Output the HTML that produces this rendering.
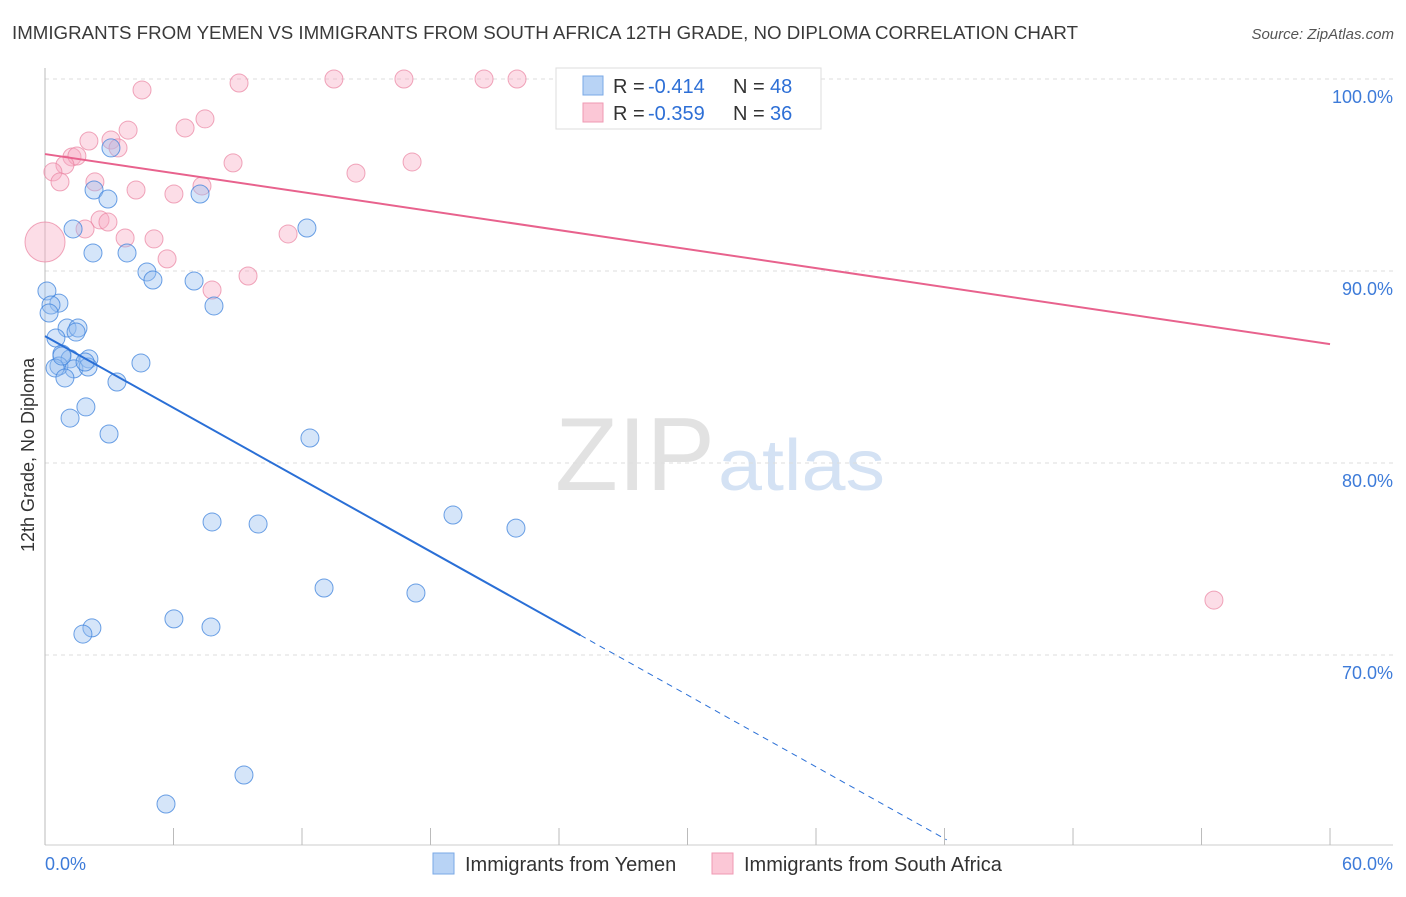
<!DOCTYPE html>
<html><head><meta charset="utf-8"><style>
body{margin:0;background:#fff;font-family:"Liberation Sans",sans-serif}
svg text{font-family:"Liberation Sans",sans-serif}
</style></head><body>
<svg id="c" width="1406" height="892">
<text x="12" y="39" font-size="18" textLength="1066" lengthAdjust="spacingAndGlyphs" fill="#3a3a3a">IMMIGRANTS FROM YEMEN VS IMMIGRANTS FROM SOUTH AFRICA 12TH GRADE, NO DIPLOMA CORRELATION CHART</text>
<text x="1394" y="39" font-size="15" fill="#555" text-anchor="end" font-style="italic">Source: ZipAtlas.com</text>
<text x="555" y="490" font-size="104" textLength="160" lengthAdjust="spacingAndGlyphs" fill="#e2e2e2" font-family="Liberation Serif">ZIP</text>
<text x="718" y="490" font-size="72" textLength="167" lengthAdjust="spacingAndGlyphs" fill="#d4e2f4">atlas</text>
<text transform="translate(34,455) rotate(-90)" font-size="18" fill="#333" text-anchor="middle">12th Grade, No Diploma</text>
<g id="grid"></g><g id="marks"></g>
<g>
<rect x="556" y="68" width="265" height="61" fill="#fff" stroke="#ddd"/>
<rect x="583" y="76" width="20" height="19" fill="#b8d3f5" stroke="#7aa8e6"/>
<rect x="583" y="103" width="20" height="19" fill="#fbc7d6" stroke="#ef9ab3"/>
<text x="613" y="93" font-size="20" fill="#333">R =</text><text x="648" y="93" font-size="20" fill="#2d6fd6">-0.414</text>
<text x="733" y="93" font-size="20" fill="#333">N =</text><text x="770" y="93" font-size="20" fill="#2d6fd6">48</text>
<text x="613" y="120" font-size="20" fill="#333">R =</text><text x="648" y="120" font-size="20" fill="#2d6fd6">-0.359</text>
<text x="733" y="120" font-size="20" fill="#333">N =</text><text x="770" y="120" font-size="20" fill="#2d6fd6">36</text>
</g>
<g>
<rect x="433" y="853" width="21" height="21" fill="#b8d3f5" stroke="#7aa8e6"/>
<text x="465" y="871" font-size="20" fill="#333">Immigrants from Yemen</text>
<rect x="712" y="853" width="21" height="21" fill="#fbc7d6" stroke="#ef9ab3"/>
<text x="744" y="871" font-size="20" fill="#333">Immigrants from South Africa</text>
</g>
</svg>
<script>
const yemenX=[3.08,2.29,2.94,7.24,1.31,12.23,2.24,3.83,4.76,5.04,6.96,0.09,0.65,0.28,0.19,7.89,1.03,1.54,1.45,0.51,0.79,1.17,2.05,0.65,0.47,1.35,2.01,0.93,3.36,4.48,1.91,1.17,2.99,12.37,7.80,9.95,19.05,21.99,13.03,17.32,6.02,2.19,1.77,7.75,9.29,5.65,0.79,1.87];
const yemenY=[96.41,94.22,93.75,94.01,92.19,92.24,90.94,90.94,89.95,89.53,89.48,88.96,88.33,88.23,87.81,88.18,87.03,87.03,86.82,86.51,85.68,85.42,85.42,85.05,84.95,84.90,85.00,84.43,84.22,85.21,82.92,82.34,81.51,81.30,76.93,76.82,77.29,76.61,73.49,73.23,71.88,71.41,71.09,71.46,63.75,62.24,85.57,85.26];
const saX=[4.53,9.06,13.49,16.76,20.50,22.04,33.48,7.47,6.54,3.88,2.05,3.08,3.41,1.26,1.49,0.93,0.37,0.70,2.33,8.78,17.14,14.52,4.25,7.33,6.02,2.57,2.94,1.87,3.74,5.09,11.35,5.70,9.48,7.80,54.58,0];
const saY=[99.43,99.79,100,100,100,100,100,97.92,97.45,97.34,96.77,96.82,96.41,95.94,95.99,95.52,95.16,94.64,94.64,95.63,95.68,95.10,94.22,94.43,94.01,92.66,92.55,92.19,91.72,91.67,91.93,90.63,89.74,89.01,72.86,91.51];
const saR=[9,9,9,9,9,9,9,9,9,9,9,9,9,9,9,9,9,9,9,9,9,9,9,9,9,9,9,9,9,9,9,9,9,9,9,20];
const yTicks=[100,90,80,70];
const yemenTrend=[86.61,-0.6232];
const saTrend=[96.09,-0.165];
const NS='http://www.w3.org/2000/svg';
const X=v=>45+v*21.417, Y=v=>79+(100-v)*19.2;
function mk(t,a,p){const e=document.createElementNS(NS,t);for(const k in a)e.setAttribute(k,a[k]);p.appendChild(e);return e;}
const g=document.getElementById('grid'),m=document.getElementById('marks');
yTicks.forEach(t=>{
 const l=mk('line',{x1:45,x2:1393,y1:Y(t),y2:Y(t),stroke:'#ddd','stroke-dasharray':'4,4'},g);
 
 
 const tx=mk('text',{x:1393,y:Y(t)+24,'font-size':18,fill:'#3d7bd9','text-anchor':'end'},g);tx.textContent=t.toFixed(1)+'%';
 
 
});
mk('line',{x1:45,x2:45,y1:68,y2:845,stroke:'#bbb'},g);
mk('line',{x1:45,x2:1393,y1:845,y2:845,stroke:'#ccc'},g);
for(let i=0;i<=10;i++){mk('line',{x1:X(i*6),x2:X(i*6),y1:828,y2:845,stroke:'#bbb'},g);}
const x0=mk('text',{x:45,y:870,'font-size':18,fill:'#3d7bd9'},g);x0.textContent='0.0%';


const x1=mk('text',{x:1393,y:870,'font-size':18,fill:'#3d7bd9','text-anchor':'end'},g);x1.textContent='60.0%';


saX.forEach((v,i)=>{const c=mk('circle',{cx:X(v),cy:Y(saY[i]),r:saR[i],fill:'rgba(248,170,195,0.4)',stroke:'rgba(234,130,160,0.7)','stroke-width':1},m);
 
 });
yemenX.forEach((v,i)=>{const c=mk('circle',{cx:X(v),cy:Y(yemenY[i]),r:9,fill:'rgba(150,190,240,0.4)',stroke:'rgba(60,130,220,0.75)','stroke-width':1},m);
 
 });
const ty=v=>yemenTrend[0]+yemenTrend[1]*v, ts=v=>saTrend[0]+saTrend[1]*v;
const bl=mk('line',{x1:X(0),y1:Y(ty(0)),x2:X(25),y2:Y(ty(25)),stroke:'#2a6fd6','stroke-width':2},m);


const bd=mk('line',{x1:X(25),y1:Y(ty(25)),x2:X(42.1),y2:Y(ty(42.1)),stroke:'#2a6fd6','stroke-width':1,'stroke-dasharray':'6,5'},m);


const pl=mk('line',{x1:X(0),y1:Y(ts(0)),x2:X(60),y2:Y(ts(60)),stroke:'#e8628d','stroke-width':2},m);


</script>
</body></html>
